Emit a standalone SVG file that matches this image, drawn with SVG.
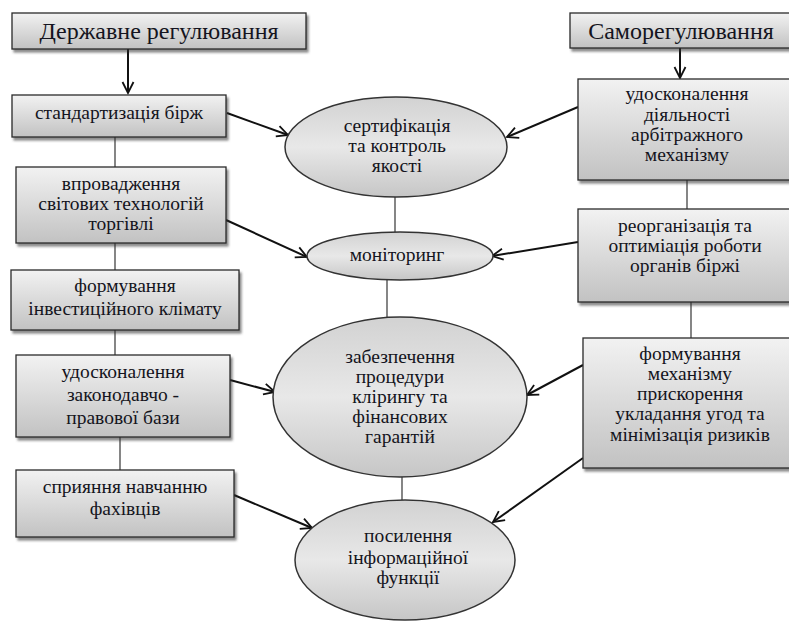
<svg xmlns="http://www.w3.org/2000/svg" width="789" height="621" viewBox="0 0 789 621">
<defs>
<linearGradient id="gBox" x1="0" y1="0" x2="0" y2="1">
<stop offset="0" stop-color="#f2f2f2"/>
<stop offset="1" stop-color="#c2c2c2"/>
</linearGradient>
<linearGradient id="gEll" x1="0" y1="0" x2="0" y2="1">
<stop offset="0" stop-color="#d2d2d2"/>
<stop offset="0.5" stop-color="#e8e8e8"/>
<stop offset="1" stop-color="#c6c6c6"/>
</linearGradient>
<filter id="sh" x="-10%" y="-10%" width="130%" height="140%">
<feDropShadow dx="2" dy="3" stdDeviation="1.2" flood-color="#333" flood-opacity="0.55"/>
</filter>
<marker id="arr" markerUnits="userSpaceOnUse" markerWidth="14" markerHeight="14" refX="12" refY="6" orient="auto" viewBox="0 0 14 12">
<path d="M1,0.5 L12,6 L1,11.5" fill="none" stroke="#111" stroke-width="1.8"/>
</marker>
</defs>
<style>
.box{fill:url(#gBox);stroke:#2a2a2a;stroke-width:1.3;filter:url(#sh)}
.ell{fill:url(#gEll);stroke:#333;stroke-width:1.5}
text{font-family:"Liberation Serif","Times New Roman",serif;font-size:19.5px;fill:#141420;text-anchor:middle}
.big{font-size:24px}
.a{stroke:#111;stroke-width:2;fill:none;marker-end:url(#arr)}
.l{stroke:#444;stroke-width:1.3;fill:none}
</style>
<rect width="789" height="621" fill="#fff"/>
<g id="connectors">
<line class="a" x1="128" y1="49" x2="128" y2="93"/>
<line class="a" x1="680" y1="48" x2="680" y2="78"/>
<line class="a" x1="227" y1="113" x2="288" y2="135"/>
<line class="a" x1="578" y1="107" x2="507" y2="137"/>
<line class="a" x1="226" y1="220" x2="307" y2="257"/>
<line class="a" x1="578" y1="242" x2="492" y2="256"/>
<line class="a" x1="230" y1="380" x2="275" y2="392"/>
<line class="a" x1="583" y1="365" x2="527" y2="395"/>
<line class="a" x1="234" y1="495" x2="312" y2="528"/>
<line class="a" x1="583" y1="458" x2="493" y2="522"/>
<line class="l" x1="115" y1="137" x2="115" y2="167"/>
<line class="l" x1="115" y1="243" x2="115" y2="270"/>
<line class="l" x1="115" y1="330" x2="115" y2="355"/>
<line class="l" x1="120" y1="437" x2="120" y2="470"/>
<line class="l" x1="395" y1="197" x2="395" y2="232"/>
<line class="l" x1="387" y1="280" x2="387" y2="317"/>
<line class="l" x1="402" y1="477" x2="402" y2="500"/>
<line class="l" x1="687" y1="180" x2="687" y2="209"/>
<line class="l" x1="691" y1="302" x2="691" y2="338"/>
</g>
<g id="n-derzh">
<rect class="box" x="12" y="13" width="294" height="36"/>
<text class="big" x="159" y="39">Державне регулювання</text>
</g>
<g id="n-samoreg">
<rect class="box" x="570" y="13" width="222" height="35"/>
<text class="big" x="681" y="39">Саморегулювання</text>
</g>
<g id="n-standart">
<rect class="box" x="12" y="95" width="214" height="42"/>
<text x="119" y="119">стандартизація бірж</text>
</g>
<g id="n-vprov">
<rect class="box" x="16" y="167" width="210" height="76"/>
<text x="121" y="190">впровадження</text>
<text x="121" y="210">світових технологій</text>
<text x="121" y="230">торгівлі</text>
</g>
<g id="n-invest">
<rect class="box" x="11" y="270" width="228" height="60"/>
<text x="125" y="292">формування</text>
<text x="125" y="315">інвестиційного клімату</text>
</g>
<g id="n-zakon">
<rect class="box" x="16" y="355" width="214" height="82"/>
<text x="123" y="378">удосконалення</text>
<text x="123" y="401">законодавчо -</text>
<text x="123" y="424">правової бази</text>
</g>
<g id="n-navch">
<rect class="box" x="16" y="470" width="218" height="67"/>
<text x="125" y="493">сприяння навчанню</text>
<text x="125" y="515">фахівців</text>
</g>
<g id="n-arbitr">
<rect class="box" x="578" y="79" width="214" height="101"/>
<text x="687" y="100">удосконалення</text>
<text x="687" y="121">діяльності</text>
<text x="687" y="141">арбітражного</text>
<text x="687" y="161">механізму</text>
</g>
<g id="n-reorg">
<rect class="box" x="578" y="209" width="214" height="93"/>
<text x="685" y="232">реорганізація та</text>
<text x="685" y="252">оптиміація роботи</text>
<text x="685" y="272">органів біржі</text>
</g>
<g id="n-mekh">
<rect class="box" x="583" y="338" width="209" height="130"/>
<text x="690" y="360">формування</text>
<text x="690" y="380">механізму</text>
<text x="690" y="400">прискорення</text>
<text x="690" y="420">укладання угод та</text>
<text x="690" y="441">мінімізація ризиків</text>
</g>
<g id="n-sert">
<ellipse class="ell" cx="396" cy="147" rx="111" ry="50"/>
<text x="397" y="132">сертифікація</text>
<text x="397" y="152">та контроль</text>
<text x="397" y="172">якості</text>
</g>
<g id="n-monit">
<ellipse class="ell" cx="400" cy="256" rx="93" ry="24"/>
<text x="397" y="261">моніторинг</text>
</g>
<g id="n-kliring">
<ellipse class="ell" cx="400" cy="397" rx="127" ry="80"/>
<text x="400" y="363">забезпечення</text>
<text x="400" y="383">процедури</text>
<text x="400" y="403">клірингу та</text>
<text x="400" y="423">фінансових</text>
<text x="400" y="443">гарантій</text>
</g>
<g id="n-inform">
<ellipse class="ell" cx="405" cy="560" rx="110" ry="60"/>
<text x="408" y="542">посилення</text>
<text x="408" y="564">інформаційної</text>
<text x="408" y="584">функції</text>
</g>
</svg>
